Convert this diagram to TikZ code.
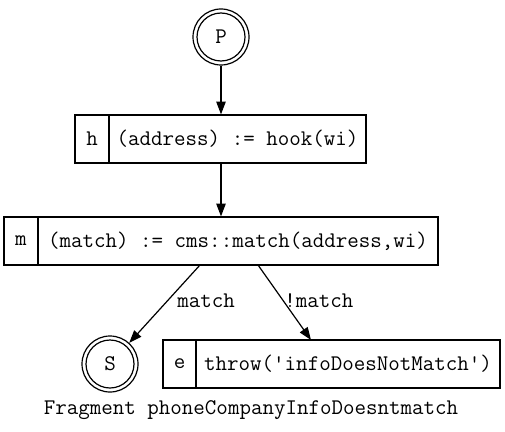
\documentclass[tikz,border=0pt]{standalone}
\usepackage{fontspec}
\setmonofont{Latin Modern Mono}
\usetikzlibrary{arrows.meta}
\begin{document}
\begin{tikzpicture}[x=0.75pt,y=-0.75pt,
  every node/.style={font=\ttfamily\fontsize{16.75}{20}\selectfont, inner sep=0pt},
  cell/.style={draw, line width=0.9pt, minimum height=36pt, anchor=center},
  ring/.style={circle, draw, line width=0.9pt, minimum size=42pt},
  edge/.style={line width=0.9pt, -{Triangle[length=9.5pt,width=7pt]}},
  lbl/.style={anchor=west}]
\useasboundingbox (0,0) rectangle (505,431);
% start
\node[ring] (P) at (221,37) {P};
\draw[line width=0.9pt] (P.center) circle[radius=18pt];
% hook
\node[cell, minimum width=25.5pt] (hL) at (92,139) {h};
\node[cell, minimum width=192.75pt] (hB) at (237.5,139) {(address) := hook(wi)};
% match
\node[cell, minimum width=25.5pt] (mL) at (21,241) {m};
\node[cell, minimum width=300pt] (mB) at (238,241) {(match) := cms::match(address,wi)};
% end
\node[ring] (S) at (110,364) {S};
\draw[line width=0.9pt] (S.center) circle[radius=18pt];
% error
\node[cell, minimum width=24.75pt] (eL) at (179.5,364) {e};
\node[cell, minimum width=228pt] (eB) at (348,364) {throw('infoDoesNotMatch')};
% connectors
\coordinate (m1) at (200,265);
\coordinate (m2) at (258,265);
\coordinate (e1) at (311,340);
\draw[edge] (P) -- (P |- hB.north);
\draw[edge] (P |- hB.south) -- (P |- mB.north);
\draw[edge] (m1) -- (S);
\draw[edge] (m2) -- (e1);
\node[lbl] (l1) at (177,301) {match};
\node[lbl] (l2) at (284,301) {!match};
% caption
\node (cap) at (251,410) {Fragment phoneCompanyInfoDoesntmatch};
\end{tikzpicture}
\end{document}
